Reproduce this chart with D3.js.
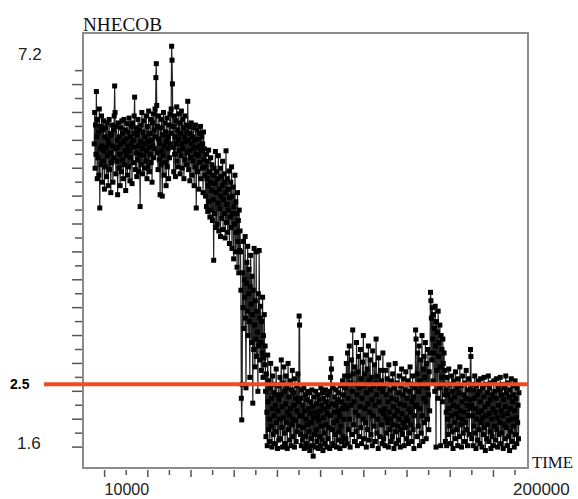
<!DOCTYPE html>
<html>
<head>
<meta charset="utf-8">
<script src="https://cdn.jsdelivr.net/npm/d3@7"></script>
<style>
html,body{margin:0;padding:0;background:#fff;}
svg{display:block;}
</style>
</head>
<body>
<svg id="chart" width="578" height="499"></svg>
<script>
// ---------- data ----------
const timeStart = 5200;
const timeEnd = 201800;
const highPlateau = [
5.95,6.40,5.60,6.22,5.80,6.70,6.05,5.45,6.30,5.75,6.12,5.50,6.45,5.03,5.88,6.20,5.65,6.35,5.92,5.40,
6.15,5.70,6.28,5.85,5.30,6.05,5.62,6.18,5.90,5.48,6.25,5.78,6.02,5.35,5.95,6.30,5.58,6.10,5.82,5.25,
6.08,5.68,6.22,5.92,5.40,6.15,5.75,6.35,6.78,6.40,5.88,5.52,6.20,5.70,6.00,5.22,5.90,6.25,5.60,6.05,
5.80,5.35,6.18,5.95,5.55,6.28,5.72,6.10,5.45,5.98,6.30,5.65,5.85,6.15,5.28,6.02,5.78,6.24,5.50,5.92,
6.12,5.62,6.32,5.85,5.42,6.05,5.75,6.20,5.95,5.38,6.25,5.68,6.00,5.90,6.35,6.62,6.10,5.58,5.82,6.18,
5.48,6.08,5.72,6.30,5.92,5.55,6.15,5.80,5.05,5.98,6.22,5.65,6.40,5.88,5.52,6.12,5.78,6.28,5.95,5.60,
6.05,5.70,6.35,5.85,5.45,6.20,5.98,5.62,6.42,5.90,5.55,6.10,5.80,6.30,5.68,6.00,5.40,6.25,5.92,6.38,
5.75,6.15,5.88,6.45,6.05,6.90,7.10,6.50,5.82,6.20,5.58,6.02,6.35,5.72,5.95,5.22,6.18,5.65,6.30,5.85,
5.20,6.08,5.78,6.40,5.50,5.92,6.25,5.68,6.12,5.35,5.98,6.32,5.62,6.05,5.88,5.45,6.22,5.75,6.38,5.95,
6.10,6.45,7.35,7.15,6.81,5.90,6.20,5.55,6.35,5.80,6.05,5.48,6.28,5.95,6.48,5.70,6.15,5.62,6.02,6.38,
5.85,6.25,5.52,6.10,5.78,6.42,5.95,5.60,6.30,5.88,6.18,5.45,6.05,6.35,5.72,5.98,6.22,5.65,6.12,5.82,
6.56,6.00,5.58,6.20,5.85,5.42,6.10,5.75,6.25,5.95,5.50,6.05,5.70,6.18,5.88,5.35,6.00,5.62,6.22,5.80,
5.03,5.90,6.15,5.55,6.02,5.78,5.30,6.10,5.68,5.92,6.20,5.45,5.85,6.05,5.60,5.95,5.25,6.12,5.72,5.88,5.50
];
const decline = [
5.62,5.20,5.80,5.05,5.45,5.70,4.98,5.35,5.86,5.12,5.55,4.90,5.40,5.75,5.00,5.28,5.65,4.85,5.50,5.15,
4.28,5.60,4.95,5.38,5.84,4.75,5.25,5.55,4.80,5.45,5.10,5.78,4.70,5.30,5.02,5.60,4.62,5.20,5.48,4.88,
5.35,5.70,4.72,5.15,5.52,4.95,5.40,4.60,5.25,5.85,4.82,5.08,5.45,4.68,5.30,5.00,5.56,4.52,5.18,4.90,
5.40,4.75,5.62,4.45,5.20,4.95,5.33,4.30,5.05,4.80,5.50,4.40,5.12,4.68,4.95,4.18,5.25,4.55,4.85,4.10,5.00,4.42,4.70
];
const steepDrop = [
4.40,3.85,2.30,1.99,2.50,4.10,3.60,4.55,3.30,4.00,3.75,4.62,3.45,2.45,3.95,4.25,3.55,4.48,3.20,3.80,
4.15,3.40,2.60,3.90,4.35,3.65,3.10,4.05,
3.50,2.23,3.85,3.00,4.45,3.35,2.75,3.70,3.15,4.40,2.90,3.55,3.25,2.40,3.80,3.05,4.42,3.45,2.85,3.62,
3.10,2.70,3.40,2.95,3.75,2.60,3.20,2.88,3.50,2.78,3.05
];
const lowBand = [
2.40,1.75,2.65,2.10,1.62,2.92,2.25,1.85,2.55,2.00,1.68,2.45,2.80,1.90,2.30,1.60,2.15,2.62,1.78,2.38,
2.05,1.65,2.50,2.20,1.82,2.72,1.95,2.35,1.58,2.12,2.48,1.70,2.28,2.00,2.60,
1.72,2.35,2.85,1.88,2.18,1.60,2.52,2.02,2.75,1.80,2.40,1.65,2.22,2.62,1.95,2.45,1.58,2.10,2.80,1.85,
2.32,2.05,1.70,2.55,2.15,1.62,2.42,1.92,2.70,2.00,1.75,2.38,2.20,1.60,2.58,1.98,2.30,1.68,2.48,2.12,
1.82,2.65,2.25,1.90,3.48,3.35,2.05,
1.78,2.30,1.62,2.42,2.05,1.70,2.20,1.88,2.45,1.58,2.12,2.35,1.75,2.00,1.65,2.28,1.92,2.40,1.60,2.15,
1.82,2.38,1.55,2.08,2.25,1.72,1.95,2.42,1.62,2.18,1.47,2.02,2.32,1.78,2.10,1.60,2.40,1.85,2.22,1.68,
2.05,2.35,1.58,1.98,2.28,1.75,2.12,1.62,2.45,1.90,2.20,1.70,2.38,1.55,2.02,2.30,1.80,2.15,1.65,2.42,
1.92,2.25,1.60,2.08,2.35,1.72,2.18,1.88,2.40,1.58,2.05,2.60,2.87,2.72,1.85,2.22,1.65,2.45,1.95,2.10,
1.62,2.32,1.78,2.20,2.42,1.60,1.98,2.28,1.70,2.12,2.38,1.82,2.05,1.58,2.48,1.90,2.25,1.68,2.15,2.55,
1.75,2.35,2.00,1.62,2.62,2.20,
2.45,1.72,2.80,2.15,1.65,2.95,2.30,1.85,2.62,3.05,2.00,1.60,2.52,2.20,2.85,1.78,2.40,3.28,2.65,1.92,
2.25,1.68,2.75,2.10,2.50,1.82,3.10,2.35,1.62,2.68,2.05,2.90,1.75,2.45,2.18,3.00,1.88,2.58,1.65,2.30,
2.82,2.00,3.20,2.48,1.72,2.65,2.15,1.95,2.92,1.60,2.38,2.72,1.85,2.22,3.05,2.55,1.70,2.10,2.85,2.42,
1.78,2.60,2.28,1.62,2.98,2.05,2.48,1.90,2.78,2.20,1.68,2.52,3.15,2.35,1.80,2.62,2.00,1.58,2.88,2.25,
2.45,1.75,2.70,2.12,1.92,2.55,1.65,2.40,2.95,2.08,
1.72,2.48,2.15,1.62,2.70,2.02,2.35,1.80,2.58,1.95,2.25,1.60,2.78,2.10,1.85,2.42,2.00,1.68,2.55,2.30,
1.75,2.65,1.92,2.18,1.58,2.45,2.05,2.80,1.82,2.28,1.65,2.52,2.12,1.90,2.38,1.70,2.62,2.00,2.22,1.60,
2.48,1.85,2.72,2.08,1.78,2.35,1.95,2.58,1.62,2.20,2.42,1.88,2.68,2.02,1.72,2.30,1.98,2.55,1.65,2.15,
2.40,1.80,2.75,2.10,1.92,2.50,1.68,2.25,2.62,1.85,2.32,1.58,2.05,2.45,2.18,
3.28,3.15,2.20,1.75,2.65,2.95,1.90,2.40,3.05,1.62,2.55,2.15,2.85,1.80,2.48,3.20,2.05,1.68,2.72,2.30,
2.90,1.95,2.60,3.10,2.25,1.72,2.80,2.45,2.00,3.00,2.35,1.85,2.68,2.12,2.95,
3.82,3.70,3.45,2.85,3.60,3.15,2.55,3.50,2.95,3.30,2.40,3.62,3.05,1.60,3.40,2.70,3.25,2.30,3.55,2.90,
3.10,2.45,3.35,2.75,1.62,3.20,2.60,3.00,2.25,3.15,2.80,2.50,2.95,2.35,2.70,
1.68,2.42,2.10,1.62,2.60,2.00,2.35,1.78,2.72,2.15,1.90,2.50,1.65,2.28,2.05,2.62,1.82,2.40,1.58,2.20,
2.55,1.95,2.32,1.72,2.68,2.08,1.85,2.45,2.18,1.62,2.58,2.02,2.38,1.75,2.75,2.12,1.92,2.48,1.60,2.25,
2.00,2.62,1.80,2.35,2.10,1.68,2.52,1.95,2.30,2.70,1.85,2.20,1.62,2.42,2.05,2.58,1.78,2.28,2.15,
3.00,2.90,2.20,1.72,2.50,2.05,1.62,2.42,1.90,2.30,2.62,1.80,2.15,1.58,2.48,2.00,2.35,1.70,2.55,2.10,
1.85,2.40,1.65,2.25,2.58,1.95,2.12,1.60,2.45,2.02,1.78,2.32,2.60,1.88,2.18,1.55,2.50,2.05,1.72,2.38,
1.92,2.22,2.62,1.68,2.08,2.45,1.82,2.28,1.58,2.52,2.00,1.75,2.35,2.15,1.62,2.55,1.90,2.40,2.10,1.70,
2.30,2.58,1.85,2.02,1.60,2.48,2.20,1.78,2.42,1.95,2.60,1.65,2.12,2.35,1.80,2.50,2.05,1.58,2.28,1.92,
2.45,1.72,2.18,2.62,1.88,2.38,1.62,2.08,2.52,1.98,1.75,2.32,1.55,2.42,2.15,1.82,2.58,2.00,1.68,2.25,
2.48,1.90,2.35,1.60,2.12,2.55,1.78,2.30,2.02,1.65,2.45,1.95,2.20,1.72,2.38
];
const values = [].concat(highPlateau, decline, steepDrop, lowBand);

const xTickValues = [10000,20000,30000,40000,50000,60000,70000,80000,90000,100000,
                     110000,120000,130000,140000,150000,160000,170000,180000,190000,200000];
const xTickLabels = ["10000","200000"];
const yTickValues = [1.6,1.8,2.0,2.2,2.4,2.6,2.8,3.0,3.2,3.4,3.6,3.8,4.0,4.2,4.4,4.6,4.8,5.0,
                     5.2,5.4,5.6,5.8,6.0,6.2,6.4,6.6,6.8,7.0];
const yTickLabels = ["7.2","1.6"];
const thresholdValue = 2.5;
const thresholdLabel = "2.5";
const yTitle = "NHECOB";
const xTitle = "TIME";

const step = (timeEnd - timeStart) / (values.length - 1);
const data = values.map((v, i) => ({t: timeStart + i * step, v}));

// ---------- layout ----------
const L = 83, T = 33, R = 528, B = 468;
const svg = d3.select("#chart");
const x = d3.scaleLinear().domain([0, 206000]).range([L, R]);
const y = d3.scaleLinear().domain([1.3, 7.54]).range([B, T]);

// plot box
svg.append("rect").attr("x", L).attr("y", T).attr("width", R - L).attr("height", B - T)
  .attr("fill", "none").attr("stroke", "#8c8c8c").attr("stroke-width", 2);

// y ticks
svg.append("g").selectAll("line").data(yTickValues).join("line")
  .attr("x1", (d, i) => L - 1 - (i % 2 === 0 ? 10 : 7))
  .attr("x2", L - 1)
  .attr("y1", d => y(d)).attr("y2", d => y(d))
  .attr("stroke", "#555").attr("stroke-width", 1.5);

// x ticks
svg.append("g").selectAll("line").data(xTickValues).join("line")
  .attr("x1", d => x(d)).attr("x2", d => x(d))
  .attr("y1", B + 2)
  .attr("y2", (d, i) => B + 2 + (i % 2 === 0 ? 7 : 5))
  .attr("stroke", "#555").attr("stroke-width", 1.5);

// series line
const line = d3.line().x(d => x(d.t)).y(d => y(d.v));
svg.append("path").datum(data).attr("d", line)
  .attr("fill", "none").attr("stroke", "#222").attr("stroke-width", 1.2);

// markers
const s = 5;
svg.append("g").selectAll("rect").data(data).join("rect")
  .attr("x", d => x(d.t) - s / 2).attr("y", d => y(d.v) - s / 2)
  .attr("width", s).attr("height", s).attr("fill", "#000");

// threshold line
svg.append("line").attr("x1", 44).attr("x2", R)
  .attr("y1", y(thresholdValue)).attr("y2", y(thresholdValue))
  .attr("stroke", "#f04a23").attr("stroke-width", 4);

// labels
const sans = "'Liberation Sans', Arial, sans-serif";
const serif = "'Liberation Serif', 'Times New Roman', serif";
svg.append("text").attr("x", 10).attr("y", y(thresholdValue) + 5)
  .attr("font-family", sans).attr("font-weight", "bold").attr("font-size", 14)
  .text(thresholdLabel);
svg.append("text").attr("x", 18).attr("y", y(7.2) + 3)
  .attr("font-family", sans).attr("font-size", 17).attr("fill", "#222").text(yTickLabels[0]);
svg.append("text").attr("x", 17).attr("y", y(1.6) + 2)
  .attr("font-family", sans).attr("font-size", 17).attr("fill", "#222").text(yTickLabels[1]);
svg.append("text").attr("x", x(10000)).attr("y", 495)
  .attr("font-family", sans).attr("font-size", 16).attr("fill", "#222").text(xTickLabels[0]);
svg.append("text").attr("x", x(200000) - 2).attr("y", 495)
  .attr("font-family", sans).attr("font-size", 17).attr("fill", "#222").text(xTickLabels[1]);
svg.append("text").attr("x", L).attr("y", 31)
  .attr("font-family", serif).attr("font-size", 19).attr("fill", "#111")
  .attr("textLength", 79).attr("lengthAdjust", "spacingAndGlyphs").text(yTitle);
svg.append("text").attr("x", 532).attr("y", 468)
  .attr("font-family", serif).attr("font-size", 17).attr("fill", "#111")
  .attr("textLength", 41).attr("lengthAdjust", "spacingAndGlyphs").text(xTitle);
</script>
</body>
</html>
